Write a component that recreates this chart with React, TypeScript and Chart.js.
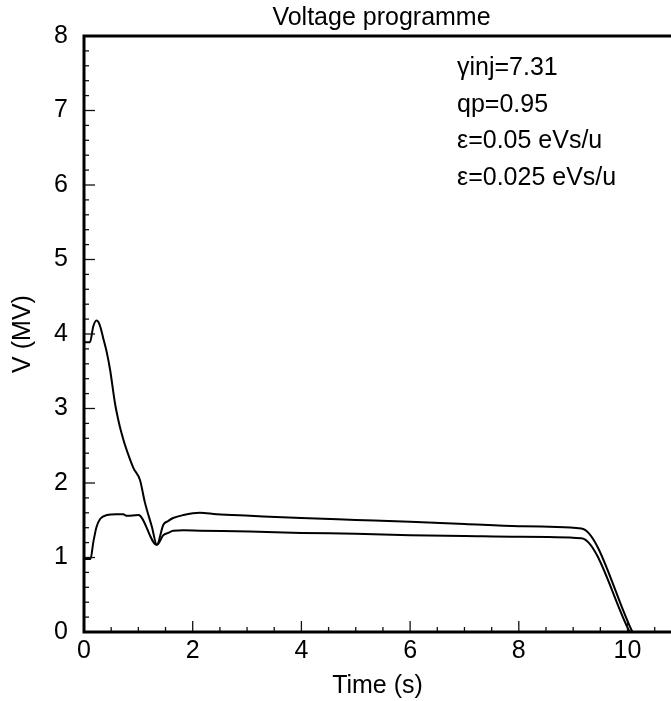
import React, { useEffect, useRef } from "react";
import { Chart, registerables } from "chart.js";

Chart.register(...registerables);

// ---- Data ----
const timesUpper = [0, 0.11, 0.17, 0.23, 0.29, 0.355, 0.42, 0.48, 0.57, 0.63, 0.69, 0.75, 0.85, 0.91, 1.03, 1.12, 1.25, 1.34, 1.46, 1.55, 1.64, 1.83, 2.13, 2.44, 3.05, 4, 5, 6, 7, 8, 9.15, 10.09];
const voltsUpper = [3.89, 3.89, 4.1, 4.18, 4.12, 3.94, 3.75, 3.52, 3.07, 2.85, 2.67, 2.52, 2.31, 2.2, 2.04, 1.74, 1.41, 1.17, 1.44, 1.49, 1.53, 1.57, 1.6, 1.58, 1.56, 1.53, 1.505, 1.48, 1.45, 1.42, 1.39, 0];

const timesLower = [0, 0.12, 0.17, 0.23, 0.3, 0.42, 0.6, 0.72, 0.79, 1.0, 1.34, 1.46, 1.55, 1.64, 1.83, 2.13, 3.05, 4, 5, 6, 7, 8, 9.15, 10.04];
const voltsLower = [0.98, 0.98, 1.2, 1.41, 1.52, 1.57, 1.58, 1.58, 1.56, 1.57, 1.17, 1.3, 1.33, 1.36, 1.365, 1.36, 1.35, 1.33, 1.32, 1.3, 1.29, 1.28, 1.26, 0];

const xMin = 0;
const xMax = 10.8;
const yMin = 0;
const yMax = 8;
const xMajorStep = 2;
const xMinorStep = 0.5;
const yMajorStep = 1;
const yMinorStep = 0.2;

const chartTitle = "Voltage programme";
const xAxisTitle = "Time (s)";
const yAxisTitle = "V (MV)";
const annotationLines = ["γinj=7.31", "qp=0.95", "ε=0.05 eVs/u", "ε=0.025 eVs/u"];

const FONT_FAMILY = "'Liberation Sans', Arial, Helvetica, sans-serif";
const FONT_SIZE = 25;

const decorPlugin = {
  id: "decor",
  afterDraw(chart: any) {
    const { ctx, chartArea, scales } = chart;
    const { left, top, right, bottom } = chartArea;
    const xs = scales.x;
    const ys = scales.y;
    ctx.save();

    // inward tick marks
    ctx.strokeStyle = "#111";
    ctx.lineWidth = 1.3;
    const nx = Math.round((xMax - xMin) / xMinorStep);
    for (let i = 0; i <= nx; i++) {
      const v = xMin + i * xMinorStep;
      if (v > xMax + 1e-9) break;
      const px = xs.getPixelForValue(v);
      const ratio = v / xMajorStep;
      const major = Math.abs(ratio - Math.round(ratio)) < 1e-6;
      ctx.beginPath();
      ctx.moveTo(px, bottom);
      ctx.lineTo(px, bottom - (major ? 11 : 5));
      ctx.stroke();
    }
    const ny = Math.round((yMax - yMin) / yMinorStep);
    for (let i = 0; i <= ny; i++) {
      const v = yMin + i * yMinorStep;
      const py = ys.getPixelForValue(v);
      const ratio = v / yMajorStep;
      const major = Math.abs(ratio - Math.round(ratio)) < 1e-6;
      ctx.beginPath();
      ctx.moveTo(left, py);
      ctx.lineTo(left + (major ? 11 : 5), py);
      ctx.stroke();
    }

    // frame: left, top, bottom
    ctx.strokeStyle = "#000";
    ctx.lineWidth = 3;
    ctx.beginPath();
    ctx.moveTo(right, top);
    ctx.lineTo(left, top);
    ctx.lineTo(left, bottom);
    ctx.lineTo(right, bottom);
    ctx.stroke();

    // title
    ctx.fillStyle = "#000";
    ctx.font = `${FONT_SIZE}px ${FONT_FAMILY}`;
    ctx.textAlign = "center";
    ctx.textBaseline = "alphabetic";
    ctx.fillText(chartTitle, (left + right) / 2 + 4, 25);

    // annotation text block
    ctx.textAlign = "left";
    annotationLines.forEach((line, i) => {
      ctx.fillText(line, left + 373, top + 39 + i * 36.7);
    });

    ctx.restore();
  },
};

export default function App() {
  const canvasRef = useRef<HTMLCanvasElement | null>(null);

  useEffect(() => {
    if (!canvasRef.current) return;
    const font = { family: FONT_FAMILY, size: FONT_SIZE };
    const chart = new Chart(canvasRef.current, {
      type: "line",
      data: {
        datasets: [
          {
            label: "ε=0.05 eVs/u",
            data: timesUpper.map((t, i) => ({ x: t, y: voltsUpper[i] })),
            borderColor: "#000",
            borderWidth: 2,
            pointRadius: 0,
            fill: false,
            cubicInterpolationMode: "monotone",
          },
          {
            label: "ε=0.025 eVs/u",
            data: timesLower.map((t, i) => ({ x: t, y: voltsLower[i] })),
            borderColor: "#000",
            borderWidth: 2,
            pointRadius: 0,
            fill: false,
            cubicInterpolationMode: "monotone",
          },
        ],
      },
      options: {
        animation: false,
        responsive: false,
        devicePixelRatio: 1,
        events: [],
        layout: { padding: { top: 36, left: 0, right: 0, bottom: 0 } },
        plugins: {
          legend: { display: false },
          tooltip: { enabled: false },
          title: { display: false },
        },
        scales: {
          x: {
            type: "linear",
            min: xMin,
            max: xMax,
            grid: { display: false, drawTicks: false },
            border: { display: false },
            ticks: {
              stepSize: xMajorStep,
              includeBounds: false,
              autoSkip: false,
              maxRotation: 0,
              padding: 4,
              color: "#000",
              font,
            },
            title: {
              display: true,
              text: xAxisTitle,
              color: "#000",
              font,
              padding: { top: 0, bottom: 0 },
            },
            afterFit(scale: any) {
              scale.height = 69;
            },
          },
          y: {
            type: "linear",
            min: yMin,
            max: yMax,
            grid: { display: false, drawTicks: false },
            border: { display: false },
            ticks: {
              stepSize: yMajorStep,
              autoSkip: false,
              padding: 16,
              color: "#000",
              font,
            },
            title: {
              display: true,
              text: yAxisTitle,
              color: "#000",
              font,
              padding: { top: 8, bottom: 0 },
            },
            afterFit(scale: any) {
              scale.width = 84;
            },
          },
        },
      },
      plugins: [decorPlugin],
    } as any);
    return () => chart.destroy();
  }, []);

  return (
    <div style={{ position: "fixed", left: 0, top: 0, width: 671, height: 701, background: "#fff" }}>
      <canvas ref={canvasRef} width={671} height={701} style={{ display: "block" }} />
    </div>
  );
}
